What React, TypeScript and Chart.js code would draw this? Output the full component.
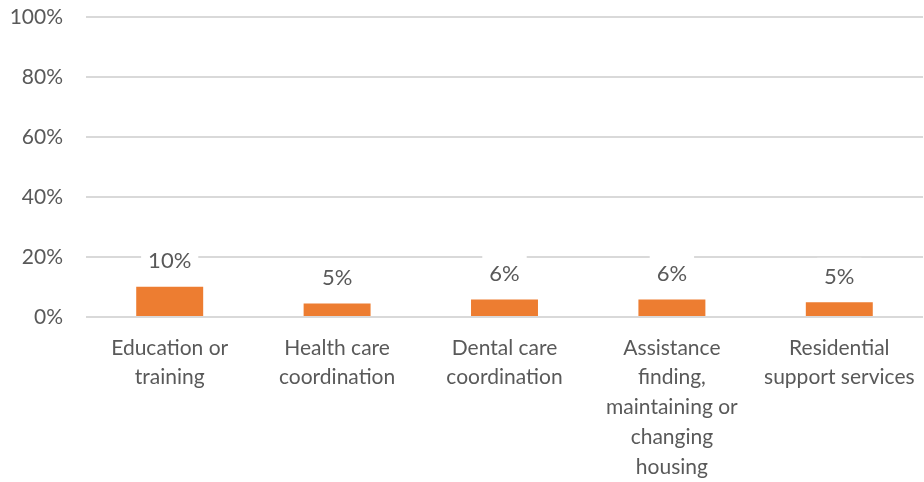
import React, { useEffect, useRef } from "react";
import { Chart, registerables } from "chart.js";

Chart.register(...registerables);

const categories: string[][] = [
  ["Education or", "training"],
  ["Health care", "coordination"],
  ["Dental care", "coordination"],
  ["Assistance", "finding,", "maintaining or", "changing", "housing"],
  ["Residential", "support services"],
];
const values: number[] = [10.1, 4.5, 5.8, 5.8, 4.9];
const yTicks: number[] = [0, 20, 40, 60, 80, 100];

const FONT = "Lato, 'Open Sans', sans-serif";
const TEXT = "#595959";

const labelPlugin = {
  id: "boxedLabels",
  afterDatasetsDraw(chart: any) {
    const ctx = chart.ctx;
    const meta = chart.getDatasetMeta(0);
    ctx.save();
    ctx.font = `22px ${FONT}`;
    ctx.textAlign = "center";
    ctx.textBaseline = "middle";
    meta.data.forEach((bar: any, i: number) => {
      const txt = Math.round(values[i]) + "%";
      const cy = bar.y - 25.5;
      const w = ctx.measureText(txt).width + 14;
      ctx.fillStyle = "#ffffff";
      ctx.fillRect(bar.x - w / 2, cy - 19, w, 38);
      ctx.fillStyle = TEXT;
      ctx.fillText(txt, bar.x, cy);
    });
    ctx.restore();
  },
};

export default function App() {
  const ref = useRef<HTMLCanvasElement | null>(null);
  useEffect(() => {
    document.body.style.margin = "0";
    if (!ref.current) return;
    const chart = new Chart(ref.current, {
      type: "bar",
      data: {
        labels: categories as any,
        datasets: [
          {
            data: values,
            backgroundColor: "#ED7D31",
            barPercentage: 0.4,
            categoryPercentage: 1,
          },
        ],
      },
      options: {
        animation: false,
        responsive: false,
        maintainAspectRatio: false,
        layout: { padding: { top: 17, right: 1, left: 0, bottom: 0 } },
        plugins: { legend: { display: false }, tooltip: { enabled: false } },
        scales: {
          x: {
            grid: { display: false, drawTicks: false },
            border: { display: false },
            ticks: {
              color: TEXT,
              font: { family: FONT, size: 21, lineHeight: 1.42 },
              padding: 16,
              maxRotation: 0,
              autoSkip: false,
            },
            afterFit(scale: any) {
              scale.height = 165;
              scale.paddingLeft = 0;
              scale.paddingRight = 0;
            },
          },
          y: {
            min: 0,
            max: 100,
            afterBuildTicks(scale: any) {
              scale.ticks = yTicks.map((v) => ({ value: v }));
            },
            grid: { color: "#d9d9d9", lineWidth: 2, drawTicks: false },
            border: { display: false },
            ticks: {
              color: TEXT,
              font: { family: FONT, size: 21 },
              padding: 23,
              callback: (v: any) => v + "%",
            },
            afterFit(scale: any) {
              scale.width = 86;
              scale.paddingTop = 0;
              scale.paddingBottom = 0;
            },
          },
        },
      },
      plugins: [labelPlugin],
    });
    return () => chart.destroy();
  }, []);
  return (
    <div style={{ position: "fixed", left: 0, top: 0, width: 924, height: 482, background: "#fff" }}>
      <canvas ref={ref} width={924} height={482} style={{ width: 924, height: 482 }} />
    </div>
  );
}
